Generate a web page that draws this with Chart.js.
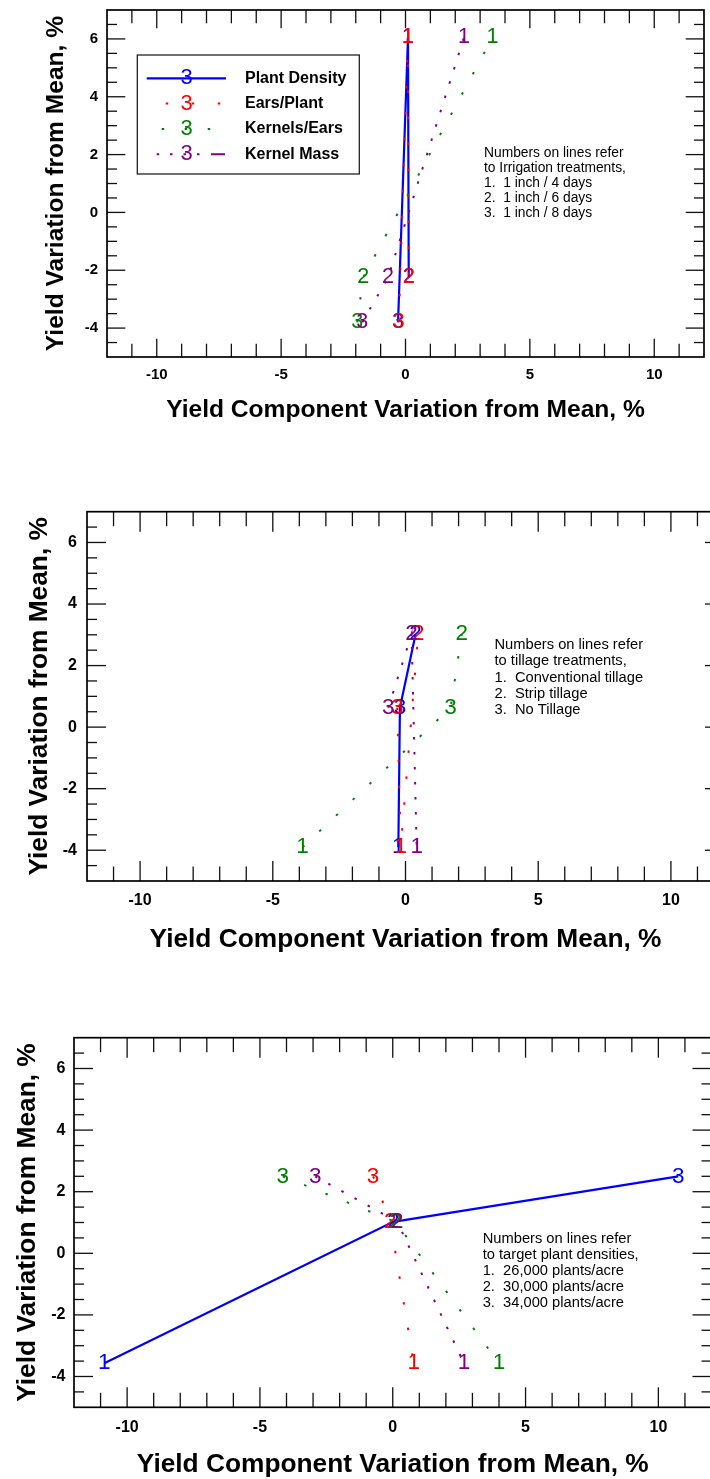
<!DOCTYPE html>
<html>
<head>
<meta charset="utf-8">
<script src="https://cdn.jsdelivr.net/npm/chart.js"></script>
<style>
  html, body { margin:0; padding:0; background:#ffffff; overflow:hidden; width:710px; height:1479px; }
  canvas { position:absolute; left:0; }
</style>
</head>
<body>
<canvas id="c1" width="710" height="440" style="top:0px;width:710px;height:440px"></canvas>
<canvas id="c2" width="740" height="480" style="top:480px;width:740px;height:480px"></canvas>
<canvas id="c3" width="740" height="500" style="top:1000px;width:740px;height:500px"></canvas>
<script>
// ---------------- DATA ----------------
const seriesNames = ['Plant Density', 'Ears/Plant', 'Kernels/Ears', 'Kernel Mass'];
const treatments = [1, 2, 3];
const xTickValues = [-10, -5, 0, 5, 10];
const yTickValues = [-4, -2, 0, 2, 4, 6];
const xTitle = 'Yield Component Variation from Mean, %';
const yTitle = 'Yield Variation from Mean, %';

// Panel 1 - irrigation treatments (values per treatment 1,2,3)
const irrigationYield        = [6.05, -2.25, -3.80];
const irrigationPlantDensity = [0.10, 0.13, -0.30];
const irrigationEarsPlant    = [0.09, 0.14, -0.27];
const irrigationKernelsEars  = [3.50, -1.70, -1.94];
const irrigationKernelMass   = [2.35, -0.70, -1.74];
const irrigationNotes = ['Numbers on lines refer', 'to Irrigation treatments,',
  '1.  1 inch / 4 days', '2.  1 inch / 6 days', '3.  1 inch / 8 days'];

// Panel 2 - tillage treatments
const tillageYield        = [-3.90, 3.02, 0.63];
const tillagePlantDensity = [-0.27, 0.38, -0.21];
const tillageEarsPlant    = [-0.18, 0.48, -0.31];
const tillageKernelsEars  = [-3.88, 2.12, 1.70];
const tillageKernelMass   = [0.42, 0.23, -0.65];
const tillageNotes = ['Numbers on lines refer', 'to tillage treatments,',
  '1.  Conventional tillage', '2.  Strip tillage', '3.  No Tillage'];

// Panel 3 - target plant densities
const densityYield        = [-3.57, 1.02, 2.50];
const densityPlantDensity = [-10.86, 0.02, 10.75];
const densityEarsPlant    = [0.79, -0.09, -0.74];
const densityKernelsEars  = [4.00, 0.10, -4.14];
const densityKernelMass   = [2.68, 0.17, -2.92];
const densityNotes = ['Numbers on lines refer', 'to target plant densities,',
  '1.  26,000 plants/acre', '2.  30,000 plants/acre', '3.  34,000 plants/acre'];

// ---------------- STYLE ----------------
const FONT = "'Liberation Sans', Arial, Helvetica, sans-serif";
const seriesStyles = [
  { color: '#0000ff', width: 2.2, dash: [] },
  { color: '#ff0000', width: 2.0, dash: [2.5, 23.5] },
  { color: '#008000', width: 2.0, dash: [2.5, 20.5] },
  { color: '#800080', width: 2.0, dash: [2.5, 12.5] }
];
const legendDash = [
  { dash: [], offset: 0 },
  { dash: [2.5, 23.5], offset: 7 },
  { dash: [2.5, 20.5], offset: 8 },
  { dash: [0, 10, 2.5, 10.8, 2.5, 11, 2.5, 11, 2.5, 11.5, 14, 60], offset: 0 }
];

const panels = [
  { id: 'c1', yieldV: irrigationYield,
    series: [irrigationPlantDensity, irrigationEarsPlant, irrigationKernelsEars, irrigationKernelMass],
    notes: irrigationNotes, legend: true,
    geo: { top: 0, W: 710, H: 440, L: 107, R: 704, T: 10, B: 357 },
    font: { tick: 15, title: 24.6, num: 21.5, note: 13.8, legend: 16 },
    pos: { xLabelOff: 18, xTitleY: 410, yTitleX: 55.8, yLabelPad: 9, noteX: 484, noteY: 152.7, noteLH: 15 },
    tick: { xMaj: 18.3, xMin: 13.3, yMaj: 18.3, yMin: 10 } },
  { id: 'c2', yieldV: tillageYield,
    series: [tillagePlantDensity, tillageEarsPlant, tillageKernelsEars, tillageKernelMass],
    notes: tillageNotes, legend: false,
    geo: { top: 480, W: 740, H: 480, L: 87, R: 724, T: 511.7, B: 881 },
    font: { tick: 16, title: 26.3, num: 22.5, note: 14.7 },
    pos: { xLabelOff: 19.8, xTitleY: 939.3, yTitleX: 40, yLabelPad: 10, noteX: 494.5, noteY: 645, noteLH: 16.25 },
    tick: { xMaj: 20, xMin: 14.5, yMaj: 19, yMin: 10 } },
  { id: 'c3', yieldV: densityYield,
    series: [densityPlantDensity, densityEarsPlant, densityKernelsEars, densityKernelMass],
    notes: densityNotes, legend: false,
    geo: { top: 1000, W: 740, H: 500, L: 74, R: 711.5, T: 1037.7, B: 1407.3 },
    font: { tick: 16, title: 26.3, num: 22.5, note: 14.7 },
    pos: { xLabelOff: 20.4, xTitleY: 1464.7, yTitleX: 27.5, yLabelPad: 8.5, noteX: 482.7, noteY: 1239, noteLH: 16.1 },
    tick: { xMaj: 20, xMin: 14.5, yMaj: 19, yMin: 10 } }
];

function line(ctx, x1, y1, x2, y2) { ctx.beginPath(); ctx.moveTo(x1, y1); ctx.lineTo(x2, y2); ctx.stroke(); }

function build(p) {
  const g = p.geo;
  const cv = document.getElementById(p.id);
  const datasets = seriesNames.map((name, i) => {
    const pts = treatments.map((t, j) => ({ x: p.series[i][j], y: p.yieldV[j], t: t }));
    pts.sort((a, b) => a.x - b.x);   // lines join the treatments in order of x
    const st = seriesStyles[i];
    return { label: name, data: pts, showLine: true, fill: false, tension: 0,
      borderColor: st.color, backgroundColor: st.color, borderWidth: st.width,
      borderDash: st.dash, borderCapStyle: 'butt', borderJoinStyle: 'miter',
      pointRadius: 0, pointHoverRadius: 0, order: 3 - i };
  });
  const tickFont = { family: FONT, size: p.font.tick, weight: 'bold', lineHeight: 1.2 };
  const titleFont = { family: FONT, size: p.font.title, weight: 'bold', lineHeight: 1.2 };
  const tickLH = p.font.tick * 1.2, titleLH = p.font.title * 1.2;

  const framePlugin = {
    id: 'frame' + p.id,
    beforeDatasetsDraw(chart) {
      const { ctx, chartArea: a, scales: { x, y } } = chart;
      ctx.save();
      ctx.strokeStyle = '#111'; ctx.lineWidth = 1.3; ctx.setLineDash([]);
      for (let v = -11; v <= 11; v++) {
        const px = x.getPixelForValue(v);
        const len = (v % 5 === 0) ? p.tick.xMaj : p.tick.xMin;
        line(ctx, px, a.bottom, px, a.bottom - len);
        line(ctx, px, a.top, px, a.top + len);
      }
      for (let k = -9; k <= 13; k++) {
        const v = k / 2;
        const py = y.getPixelForValue(v);
        const len = (v % 2 === 0) ? p.tick.yMaj : p.tick.yMin;
        line(ctx, a.left, py, a.left + len, py);
        line(ctx, a.right, py, a.right - len, py);
      }
      ctx.strokeStyle = '#000'; ctx.lineWidth = 1.7;
      ctx.strokeRect(a.left, a.top, a.right - a.left, a.bottom - a.top);
      ctx.restore();
    }
  };

  const labelPlugin = {
    id: 'labels' + p.id,
    afterDatasetsDraw(chart) {
      const ctx = chart.ctx;
      ctx.save();
      ctx.font = p.font.num + 'px ' + FONT;
      ctx.textAlign = 'center'; ctx.textBaseline = 'middle';
      chart.data.datasets.forEach((ds, i) => {
        const meta = chart.getDatasetMeta(i);
        ctx.fillStyle = ds.borderColor;
        meta.data.forEach((el, j) => { ctx.fillText(String(ds.data[j].t), el.x, el.y); });
      });
      // notes
      ctx.fillStyle = '#000'; ctx.textAlign = 'left';
      ctx.font = p.font.note + 'px ' + FONT;
      p.notes.forEach((s, k) => ctx.fillText(s, p.pos.noteX, p.pos.noteY - g.top + k * p.pos.noteLH));
      // legend
      if (p.legend) {
        const bx = 137.3, by = 55, bw = 222, bh = 119;
        ctx.strokeStyle = '#222'; ctx.lineWidth = 1.3; ctx.setLineDash([]);
        ctx.strokeRect(bx, by, bw, bh);
        chart.data.datasets.forEach((ds, i) => {
          const ry = 78.3 + i * 25.3;
          ctx.save();
          ctx.strokeStyle = ds.borderColor; ctx.lineWidth = ds.borderWidth; ctx.lineCap = 'butt';
          ctx.setLineDash(legendDash[i].dash); ctx.lineDashOffset = legendDash[i].offset;
          line(ctx, 146.7, ry, 226, ry);
          ctx.restore();
          ctx.fillStyle = ds.borderColor; ctx.textAlign = 'center';
          ctx.font = '22px ' + FONT;
          ctx.fillText('3', 186.7, ry);
          ctx.fillStyle = '#000'; ctx.textAlign = 'left';
          ctx.font = 'bold ' + p.font.legend + 'px ' + FONT;
          ctx.fillText(ds.label, 245, ry);
        });
      }
      ctx.restore();
    }
  };

  return new Chart(cv, {
    type: 'scatter',
    data: { datasets },
    options: {
      responsive: false, animation: false, devicePixelRatio: 1, events: [],
      layout: { padding: { left: 0, top: g.T - g.top, right: g.W - g.R, bottom: 0 } },
      plugins: { legend: { display: false }, tooltip: { enabled: false }, title: { display: false } },
      scales: {
        x: {
          type: 'linear', position: 'bottom', min: -12, max: 12,
          grid: { display: false, drawTicks: false }, border: { display: false },
          afterBuildTicks: s => { s.ticks = xTickValues.map(v => ({ value: v })); },
          ticks: { font: tickFont, color: '#000', padding: p.pos.xLabelOff - tickLH / 2,
                   maxRotation: 0, minRotation: 0, autoSkip: false, callback: v => String(v) },
          title: { display: true, text: xTitle, font: titleFont, color: '#000',
                   padding: { top: 0, bottom: g.H - (p.pos.xTitleY - g.top) - titleLH / 2 } },
          afterFit: s => { s.height = g.H - (g.B - g.top); s.paddingLeft = 0; s.paddingRight = 0; }
        },
        y: {
          type: 'linear', position: 'left', min: -5, max: 7,
          grid: { display: false, drawTicks: false }, border: { display: false },
          afterBuildTicks: s => { s.ticks = yTickValues.map(v => ({ value: v })); },
          ticks: { font: tickFont, color: '#000', padding: p.pos.yLabelPad, autoSkip: false, callback: v => String(v) },
          title: { display: true, text: yTitle, font: titleFont, color: '#000',
                   padding: { top: p.pos.yTitleX - titleLH / 2, bottom: 0 } },
          afterFit: s => { s.width = g.L; s.paddingTop = 0; s.paddingBottom = 0; }
        }
      }
    },
    plugins: [framePlugin, labelPlugin]
  });
}

panels.forEach(build);
</script>
</body>
</html>
